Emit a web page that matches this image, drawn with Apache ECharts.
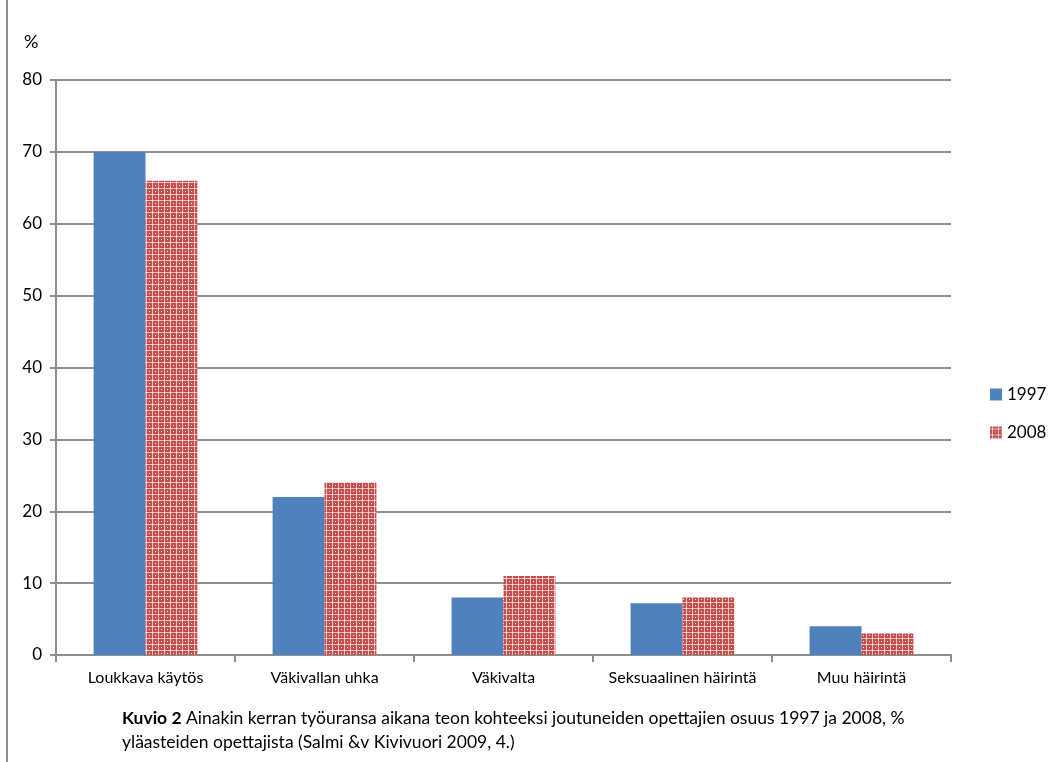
<!DOCTYPE html>
<html>
<head>
<meta charset="utf-8">
<script src="https://cdn.jsdelivr.net/npm/echarts@6/dist/echarts.min.js"></script>
<style>
html,body{margin:0;padding:0;background:#fff;}
#chart{width:1051px;height:762px;}
</style>
</head>
<body>
<div id="chart"></div>
<script>
const categories = ['Loukkava käytös', 'Väkivallan uhka', 'Väkivalta', 'Seksuaalinen häirintä', 'Muu häirintä'];
const values1997 = [70, 22, 8, 7.2, 4];
const values2008 = [66, 24, 11, 8, 3];
const yTicks = [0, 10, 20, 30, 40, 50, 60, 70, 80];

// Red dotted fill used for the 2008 bars
function makeDotPattern() {
  const c = document.createElement('canvas');
  c.width = 6; c.height = 6;
  const g = c.getContext('2d');
  g.fillStyle = '#c4504e';
  g.fillRect(0, 0, 6, 6);
  g.fillStyle = '#eebcbb';
  g.fillRect(2, 0, 1, 6);
  g.fillRect(0, 2, 6, 1);
  g.fillStyle = '#ffffff';
  g.fillRect(2, 2, 1, 1);
  g.fillRect(5, 5, 1, 1);
  return c;
}
const pattern = { image: makeDotPattern(), repeat: 'repeat' };

const font = 'Lato, "Open Sans", sans-serif';
const chart = echarts.init(document.getElementById('chart'), null, { renderer: 'canvas' });

chart.setOption({
  animation: false,
  backgroundColor: '#ffffff',
  grid: { left: 56, right: 100, top: 80, bottom: 107 },
  legend: {
    orient: 'vertical',
    left: 985,
    top: 381,
    itemWidth: 12,
    itemHeight: 12,
    itemGap: 21,
    icon: 'rect',
    textStyle: { fontFamily: font, fontSize: 17, color: '#000' },
    data: ['1997', '2008']
  },
  xAxis: {
    type: 'category',
    data: categories,
    axisLine: { lineStyle: { color: '#8e8e8e', width: 2 } },
    axisTick: { show: true, length: 7, alignWithLabel: false, lineStyle: { color: '#8e8e8e', width: 2 } },
    axisLabel: { fontFamily: font, fontSize: 16, color: '#000', margin: 15, interval: 0 }
  },
  yAxis: {
    type: 'value',
    min: 0,
    max: 80,
    interval: 10,
    axisLine: { show: true, lineStyle: { color: '#8e8e8e', width: 2 } },
    axisTick: { show: true, length: 6, lineStyle: { color: '#8e8e8e', width: 2 } },
    splitLine: { lineStyle: { color: '#8e8e8e', width: 2 } },
    axisLabel: {
      fontFamily: font, fontSize: 17, color: '#000', margin: 14,
      formatter: v => yTicks.includes(v) ? String(v) : ''
    }
  },
  series: [
    {
      name: '1997', type: 'bar', data: values1997,
      barGap: '0%', barCategoryGap: '42%',
      itemStyle: { color: '#4f81bd' }
    },
    {
      name: '2008', type: 'bar', data: values2008,
      barGap: '0%', barCategoryGap: '42%',
      itemStyle: { color: pattern }
    }
  ],
  graphic: [
    { type: 'line', shape: { x1: 7, y1: 0, x2: 7, y2: 762 }, style: { stroke: '#8e8e8e', lineWidth: 2 } },
    { type: 'text', left: 24, top: 33, style: { text: '%', fontFamily: font, fontSize: 18, fill: '#000' } },
    {
      type: 'text', left: 122, top: 706,
      style: {
        text: '{b|Kuvio 2} Ainakin kerran työuransa aikana teon kohteeksi joutuneiden opettajien osuus 1997 ja 2008, %\nyläasteiden opettajista (Salmi &v Kivivuori 2009, 4.)',
        fontFamily: font, fontSize: 17.5, fill: '#000', lineHeight: 24,
        rich: { b: { fontFamily: font, fontSize: 17.5, fontWeight: 'bold', fill: '#000', lineHeight: 24 } }
      }
    }
  ]
});
</script>
</body>
</html>
